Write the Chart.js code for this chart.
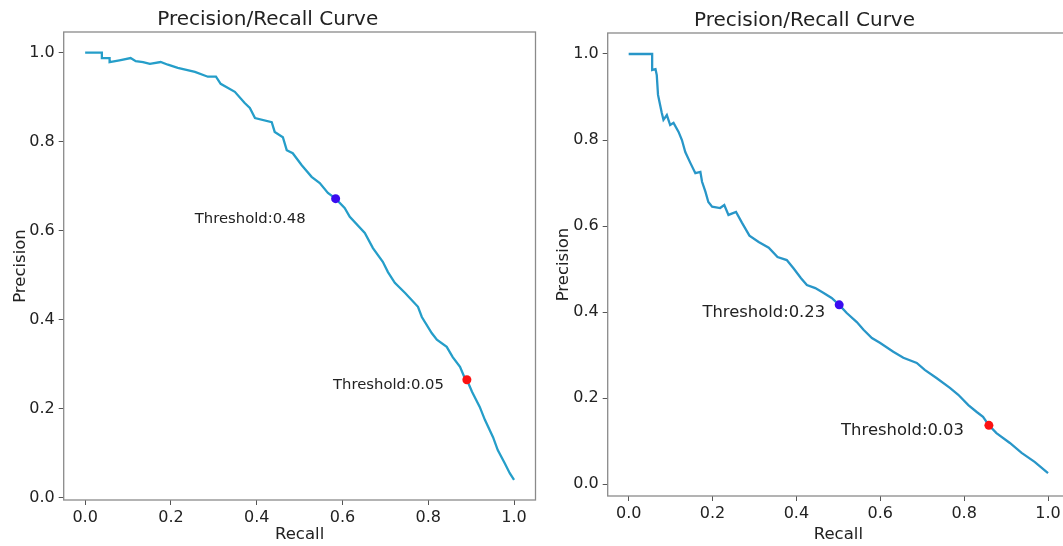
<!DOCTYPE html>
<html><head><meta charset="utf-8">
<script src="https://cdn.jsdelivr.net/npm/chart.js@4"></script>
<style>
html,body{margin:0;padding:0;background:#fff;overflow:hidden;width:1063px;height:546px;position:relative}
.box{position:absolute;top:0;height:546px}
#l{left:0;width:540px}
#r{left:540px;width:545px}
</style></head><body>
<div class="box" id="l"><canvas id="cl"></canvas></div>
<div class="box" id="r"><canvas id="cr"></canvas></div>
<script>
// ---- data ----
const xTicks = [0, 0.2, 0.4, 0.6, 0.8, 1.0];
const yTicks = [0, 0.2, 0.4, 0.6, 0.8, 1.0];

const leftRecall = [0.000,0.039,0.039,0.057,0.057,0.080,0.106,0.118,0.135,0.151,0.176,0.193,0.216,0.256,0.286,0.305,0.316,0.349,0.372,0.384,0.396,0.435,0.442,0.461,0.470,0.484,0.505,0.528,0.547,0.566,0.584,0.605,0.617,0.652,0.671,0.694,0.706,0.722,0.746,0.776,0.785,0.808,0.820,0.843,0.857,0.874,0.885,0.890,0.902,0.920,0.932,0.951,0.962,0.978,0.990,1.000];
const leftPrecision = [1.000,1.000,0.988,0.988,0.979,0.983,0.988,0.981,0.979,0.975,0.979,0.973,0.966,0.957,0.946,0.946,0.930,0.912,0.887,0.876,0.853,0.844,0.822,0.810,0.781,0.774,0.747,0.721,0.707,0.685,0.672,0.651,0.631,0.595,0.561,0.530,0.507,0.483,0.460,0.429,0.406,0.370,0.355,0.339,0.316,0.294,0.269,0.265,0.238,0.204,0.175,0.136,0.107,0.078,0.055,0.040];
const leftThresholdRecall = [0.584, 0.890];
const leftThresholdPrecision = [0.672, 0.265];
const leftThresholdLabels = ['Threshold:0.48', 'Threshold:0.05'];

const rightRecall = [0.000,0.056,0.056,0.064,0.067,0.070,0.074,0.079,0.083,0.091,0.099,0.107,0.119,0.127,0.135,0.147,0.159,0.171,0.175,0.183,0.190,0.199,0.218,0.228,0.238,0.256,0.270,0.288,0.310,0.334,0.355,0.377,0.393,0.411,0.425,0.445,0.464,0.484,0.502,0.520,0.544,0.560,0.580,0.599,0.631,0.655,0.687,0.706,0.734,0.766,0.786,0.810,0.830,0.845,0.859,0.877,0.909,0.937,0.968,1.000];
const rightPrecision = [1.000,1.000,0.963,0.965,0.951,0.905,0.886,0.863,0.847,0.858,0.835,0.840,0.819,0.800,0.772,0.747,0.723,0.726,0.703,0.680,0.656,0.645,0.642,0.649,0.626,0.633,0.608,0.578,0.563,0.550,0.528,0.521,0.502,0.479,0.463,0.456,0.445,0.433,0.417,0.398,0.377,0.359,0.340,0.329,0.308,0.294,0.282,0.266,0.247,0.224,0.208,0.184,0.168,0.157,0.137,0.119,0.096,0.073,0.052,0.026];
const rightThresholdRecall = [0.502, 0.859];
const rightThresholdPrecision = [0.417, 0.137];
const rightThresholdLabels = ['Threshold:0.23', 'Threshold:0.03'];

// ---- styling ----
const F = '"DejaVu Sans", "Liberation Sans", sans-serif';
const TXT = '#222222';
const markerColors = ['#3a0cf0', '#fb1212'];

const framePlugin = {
  id: 'frame',
  afterDatasetsDraw(chart) {
    const a = chart.chartArea, c = chart.ctx;
    c.save();
    c.strokeStyle = '#8a8a8a';
    c.lineWidth = 1.3;
    c.strokeRect(a.left, a.top, a.right - a.left, a.bottom - a.top);
    c.restore();
  }
};
const labelPlugin = {
  id: 'thrLabels',
  afterDatasetsDraw(chart, args, opts) {
    const meta = chart.getDatasetMeta(1);
    const c = chart.ctx;
    c.save();
    c.font = opts.size + 'px ' + F;
    c.fillStyle = TXT;
    c.textAlign = 'right';
    c.textBaseline = 'middle';
    meta.data.forEach((p, i) => {
      const off = opts.offsets[i];
      c.fillText(opts.labels[i], p.x + off[0], p.y + off[1]);
    });
    c.restore();
  }
};

function build(id, o) {
  return new Chart(document.getElementById(id), {
    type: 'scatter',
    data: {
      datasets: [
        {
          data: o.recall.map((r, i) => ({x: r, y: o.precision[i]})),
          showLine: true, borderColor: o.lineColor, borderWidth: 2.3,
          pointRadius: 0, pointHoverRadius: 0, tension: 0, order: 2
        },
        {
          data: o.thrRecall.map((r, i) => ({x: r, y: o.thrPrecision[i]})),
          showLine: false, pointRadius: 4.5, pointHoverRadius: 4.5,
          pointBackgroundColor: markerColors, pointBorderWidth: 0, order: 1
        }
      ]
    },
    options: {
      responsive: true, maintainAspectRatio: false, animation: false, devicePixelRatio: 1,
      layout: {padding: {left: 0, top: 0, bottom: 0, right: o.padRight}},
      events: [],
      plugins: {
        legend: {display: false},
        tooltip: {enabled: false},
        title: {display: true, text: 'Precision/Recall Curve', color: TXT,
          font: {family: F, size: 20, weight: 'normal'},
          padding: {top: o.titleTop, bottom: o.titleBottom}},
        thrLabels: {labels: o.labels, offsets: o.offsets, size: o.labelSize}
      },
      scales: {
        x: {
          type: 'linear', min: -0.05, max: 1.05,
          afterBuildTicks: s => { s.ticks = xTicks.map(v => ({value: v})); },
          afterFit: s => { s.height = o.xH; },
          ticks: {callback: v => Number(v).toFixed(1), color: TXT, font: {family: F, size: 16}, padding: 3, maxRotation: 0, autoSkip: false},
          grid: {display: true, drawOnChartArea: false, drawTicks: true, tickLength: 5, tickColor: '#555', color: '#555'},
          border: {display: false},
          title: {display: true, text: 'Recall', color: TXT, font: {family: F, size: 16.5}, padding: {top: 0, bottom: 1}}
        },
        y: {
          type: 'linear', min: o.yMin, max: o.yMax,
          afterBuildTicks: s => { s.ticks = yTicks.map(v => ({value: v})); },
          afterFit: s => { s.width = o.yW; },
          ticks: {callback: v => Number(v).toFixed(1), color: TXT, font: {family: F, size: 16}, padding: 4, autoSkip: false},
          grid: {display: true, drawOnChartArea: false, drawTicks: true, tickLength: 5, tickColor: '#555', color: '#555'},
          border: {display: false},
          title: {display: true, text: 'Precision', color: TXT, font: {family: F, size: 16.5}, padding: {top: o.yTitlePad, bottom: 0}}
        }
      }
    },
    plugins: [framePlugin, labelPlugin]
  });
}

build('cl', {
  recall: leftRecall, precision: leftPrecision,
  thrRecall: leftThresholdRecall, thrPrecision: leftThresholdPrecision,
  labels: leftThresholdLabels, offsets: [[-30, 20], [-23, 5]], labelSize: 14.8,
  lineColor: '#259ec9', padRight: 4.5, titleTop: 8, titleBottom: 0,
  xH: 46, yW: 63.7, yMin: -0.0052, yMax: 1.0465, yTitlePad: 10.5
});
build('cr', {
  recall: rightRecall, precision: rightPrecision,
  thrRecall: rightThresholdRecall, thrPrecision: rightThresholdPrecision,
  labels: rightThresholdLabels, offsets: [[-14, 8], [-25, 5]], labelSize: 16.4,
  lineColor: '#2896c8', padRight: 16, titleTop: 9, titleBottom: 0,
  xH: 50, yW: 67.7, yMin: -0.0272, yMax: 1.0488, yTitlePad: 13.5
});
</script>
</body></html>
